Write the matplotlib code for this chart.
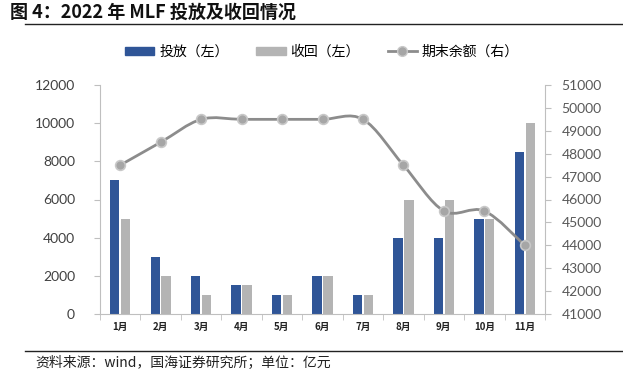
import matplotlib
matplotlib.use("Agg")
import matplotlib.pyplot as plt
import numpy as np
from matplotlib.path import Path
from matplotlib.patches import PathPatch
from matplotlib.lines import Line2D
from matplotlib.patches import Patch

plt.rcParams['font.family'] = ['Noto Sans CJK SC', 'DejaVu Sans']

months = ["1月", "2月", "3月", "4月", "5月", "6月", "7月", "8月", "9月", "10月", "11月"]
invest = [7000, 3000, 2000, 1500, 1000, 2000, 1000, 4000, 4000, 5000, 8500]
recover = [5000, 2000, 1000, 1500, 1000, 2000, 1000, 6000, 6000, 5000, 10000]
balance = [47500, 48500, 49500, 49500, 49500, 49500, 49500, 47500, 45500, 45500, 44000]

left_ticks = [0, 2000, 4000, 6000, 8000, 10000, 12000]
right_ticks = list(range(41000, 51001, 1000))

BLUE = "#2f5597"
GRAY = "#b4b4b4"
LINE = "#8c8c8c"
AX = "#bfbfbf"
TXT = "#595959"

fig = plt.figure(figsize=(6.23, 3.79), dpi=100)
ax = fig.add_axes([100/623, 1-314/379, 445/623, 229/379])
ax2 = ax.twinx()

x = np.arange(len(months))
w = 0.23
ax.bar(x - w/2 - 0.02, invest, width=w, color=BLUE, zorder=2)
ax.bar(x + w/2 + 0.02, recover, width=w, color=GRAY, zorder=2)

ax.set_xlim(-0.5, len(months) - 0.5)
ax.set_ylim(0, 12000)
ax.set_yticks(left_ticks)
ax.set_yticklabels([str(t) for t in left_ticks], family=['Lato', 'DejaVu Sans'], fontsize=10, color="#404040")
ax.set_xticks(x)
ax.set_xticklabels(months, fontsize=7, fontweight='bold', color="#222222")
ax.tick_params(axis='x', length=0, pad=6)
ax.set_xticks(np.arange(-0.5, len(months), 1), minor=True)
ax.tick_params(axis='x', which='minor', length=4, color=AX, direction='out')
ax.tick_params(axis='y', length=4, color=AX, direction='out', pad=14)

for s in ['top', 'right']:
    ax.spines[s].set_visible(False)
ax.spines['left'].set_color(AX)
ax.spines['bottom'].set_color(AX)

ax2.set_ylim(41000, 51000)
ax2.set_yticks(right_ticks)
ax2.set_yticklabels([str(t) for t in right_ticks], family=['Lato', 'DejaVu Sans'], fontsize=10, color=TXT)
ax2.tick_params(axis='y', length=4, color=AX, direction='out', pad=8)
for s in ['top', 'left', 'bottom']:
    ax2.spines[s].set_visible(False)
ax2.spines['right'].set_color(AX)

# smoothed line (Catmull-Rom -> Bezier) in data coords
pts = np.column_stack([x, balance]).astype(float)
verts = [tuple(pts[0])]
codes = [Path.MOVETO]
n = len(pts)
for i in range(n - 1):
    p0 = pts[i - 1] if i > 0 else pts[i]
    p1 = pts[i]
    p2 = pts[i + 1]
    p3 = pts[i + 2] if i + 2 < n else pts[i + 1]
    c1 = p1 + (p2 - p0) / 6.0
    c2 = p2 - (p3 - p1) / 6.0
    verts += [tuple(c1), tuple(c2), tuple(p2)]
    codes += [Path.CURVE4] * 3
ax2.add_patch(PathPatch(Path(verts, codes), facecolor='none', edgecolor=LINE, lw=2, zorder=3))
ax2.plot(x, balance, linestyle='none', marker='o', markersize=7, markerfacecolor="#a6a6a6",
         markeredgecolor="#c8c8c8", markeredgewidth=1.2, zorder=4)

handles = [Patch(color=BLUE), Patch(color=GRAY),
           Line2D([0], [0], color=LINE, lw=2, marker='o', markersize=7,
                  markerfacecolor="#a6a6a6", markeredgecolor="#c8c8c8")]
labels = ["投放（左）", "收回（左）", "期末余额（右）"]
fig.legend(handles, labels, loc='center', bbox_to_anchor=(322/623, 1-52/379), ncol=3,
           frameon=False, fontsize=10, handlelength=2.1, handleheight=0.55,
           columnspacing=2.0, handletextpad=0.35)

fig.text(10/623, 1-12/379, "图 4：2022 年 MLF 投放及收回情况", fontsize=13, fontweight='bold',
         va='center', ha='left', color="#111111")
fig.add_artist(Line2D([25/623, 1], [1-24/379, 1-24/379], color="#222222", lw=1))
fig.add_artist(Line2D([25/623, 1], [1-351/379, 1-351/379], color="#222222", lw=1))
fig.text(35/623, 1-363/379, "资料来源：wind，国海证券研究所；单位：亿元", fontsize=10,
         va='center', ha='left', color="#222222")

fig.savefig("out.png", dpi=100)
